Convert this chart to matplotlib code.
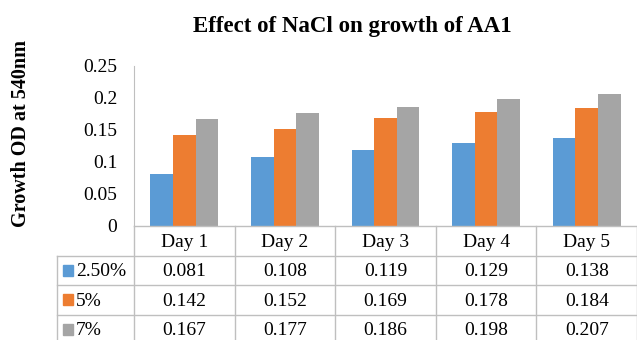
import numpy as np
import matplotlib
matplotlib.use('Agg')
import matplotlib.pyplot as plt
from matplotlib.patches import Rectangle

# Data
days = ['Day 1', 'Day 2', 'Day 3', 'Day 4', 'Day 5']
series = ['2.50%', '5%', '7%']
od_250 = [0.081, 0.108, 0.119, 0.129, 0.138]
od_5 = [0.142, 0.152, 0.169, 0.178, 0.184]
od_7 = [0.167, 0.177, 0.186, 0.198, 0.207]
values = [od_250, od_5, od_7]
yticks = [0, 0.05, 0.1, 0.15, 0.2, 0.25]
ytick_labels = ['0', '0.05', '0.1', '0.15', '0.2', '0.25']

colors = ['#5B9BD5', '#ED7D31', '#A5A5A5']
line_c = '#BFBFBF'
plt.rcParams['font.family'] = ['Liberation Serif', 'DejaVu Serif']

W, H = 637, 340
fig = plt.figure(figsize=(W / 100, H / 100), dpi=100)

# plot area (pixel box: x 134..637, y 66..226)
ax = fig.add_axes([134 / W, 1 - 226 / H, 503 / W, 160 / H])
x = np.arange(len(days))
bw = 0.225
for i, vals in enumerate(values):
    ax.bar(x + (i - 1) * bw, vals, width=bw, color=colors[i])
ax.set_xlim(-0.5, len(days) - 0.5)
ax.set_ylim(0, 0.25)
ax.set_yticks(yticks)
ax.set_yticklabels(ytick_labels, fontsize=14)
ax.tick_params(axis='y', length=0, pad=12)
ax.set_xticks([])
for s in ['top', 'right', 'bottom']:
    ax.spines[s].set_visible(False)
ax.spines['left'].set_color(line_c)

fig.text(352 / W, 1 - 32 / H, 'Effect of NaCl on growth of AA1',
         ha='center', va='baseline', fontsize=16.5, fontweight='bold')
fig.text(21 / W, 1 - 134 / H, 'Growth OD at 540nm', rotation=90,
         ha='center', va='center', fontsize=14.5, fontweight='bold')

# data table below (pixel box: x 57..637, y 226..344)
lab_w = 77 / 100.6
tab = fig.add_axes([57 / W, 1 - 344 / H, 580 / W, 118 / H])
tab.set_xlim(-0.5 - lab_w, len(days) - 0.5)
tab.set_ylim(4, 0)
tab.axis('off')
kw = dict(color=line_c, lw=1, clip_on=False)
tab.plot([-0.5, len(days) - 0.5], [0, 0], **kw)
for r in range(1, 4):
    tab.plot([-0.5 - lab_w, len(days) - 0.5], [r, r], **kw)
tab.plot([-0.5 - lab_w, -0.5 - lab_w], [1, 4], **kw)
for c in range(len(days) + 1):
    tab.plot([c - 0.5, c - 0.5], [0, 4], **kw)
for c, d in enumerate(days):
    tab.text(c, 0.55, d, ha='center', va='center', fontsize=14)
for r, (name, vals) in enumerate(zip(series, values), start=1):
    tab.add_patch(Rectangle((-0.5 - lab_w + 0.06, r + 0.32), 0.1, 0.36,
                            color=colors[r - 1], clip_on=False))
    tab.text(-0.5 - lab_w + 0.19, r + 0.55, name, ha='left', va='center',
             fontsize=14)
    for c, v in enumerate(vals):
        tab.text(c, r + 0.55, f'{v:.3f}', ha='center', va='center',
                 fontsize=14)

fig.savefig('out.png', dpi=100)
